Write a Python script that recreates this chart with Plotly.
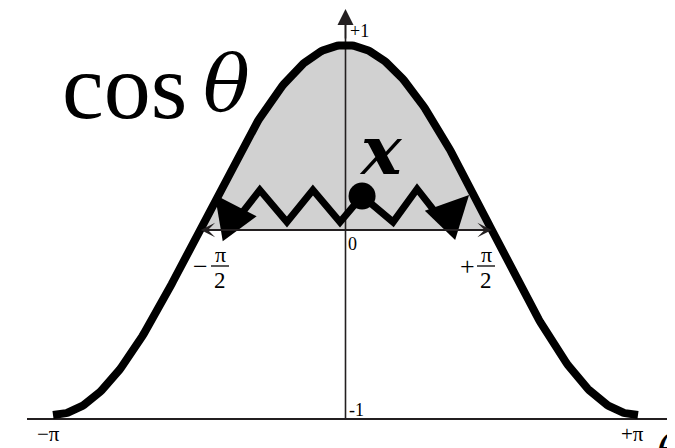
import numpy as np
import plotly.graph_objects as go

# ---------------- data ----------------
theta_min, theta_max = -np.pi, np.pi
curve_theta = np.linspace(theta_min, theta_max, 361)
curve_y = np.cos(curve_theta)

fill_theta = np.linspace(-np.pi / 2, np.pi / 2, 181)
fill_y = np.cos(fill_theta)

# zig-zag path (first/last points are the arrow tips)
zig_theta = [-1.403, -1.189, -0.920, -0.629, -0.350, -0.059, 0.178, 0.511, 0.769, 1.049, 1.327]
zig_y = [0.190, 0.043, 0.216, 0.043, 0.216, 0.043, 0.184, 0.043, 0.222, 0.043, 0.189]
dot_theta = [0.178]
dot_y = [0.184]

half_span = [-np.pi / 2, np.pi / 2]

# ---------------- geometry helpers (screen pixel -> data) ----------------
OFF = 8                      # page body margin
W, H = 675 - OFF, 448 - OFF
CX, PX_PER_RAD = 345.5, 292.5 / np.pi
CY, PX_PER_UNIT = 230.0, 185.0


def X(px):
    return (px - CX) / PX_PER_RAD


def Y(py):
    return (CY - py) / PX_PER_UNIT


INK = "#231f20"
SERIF = "DejaVu Serif"
TIMES = "Times New Roman"

fig = go.Figure()

# shaded region
fig.add_trace(go.Scatter(
    x=list(fill_theta) + [half_span[1], half_span[0]],
    y=list(fill_y) + [0, 0],
    fill="toself", fillcolor="rgb(209,209,209)",
    mode="lines", line=dict(width=0), hoverinfo="skip"))

# theta axis line (at y = -1 bottom)
fig.add_trace(go.Scatter(x=[X(27), X(668)], y=[Y(419), Y(419)], mode="lines",
                         line=dict(color=INK, width=2), hoverinfo="skip"))
# vertical axis line
fig.add_trace(go.Scatter(x=[0, 0], y=[Y(419), Y(14)], mode="lines",
                         line=dict(color=INK, width=1.6), hoverinfo="skip"))

# cosine curve
fig.add_trace(go.Scatter(x=curve_theta, y=curve_y, mode="lines",
                         line=dict(color="black", width=8), hoverinfo="skip"))

# zigzag
fig.add_trace(go.Scatter(x=zig_theta[1:-1], y=zig_y[1:-1], mode="lines",
                         line=dict(color="black", width=7), hoverinfo="skip"))
# dot
fig.add_trace(go.Scatter(x=dot_theta, y=dot_y, mode="markers",
                         marker=dict(color="black", size=27), hoverinfo="skip"))

annotations = []
# zigzag arrowheads
for (t0, y0, t1, y1) in [(zig_theta[1], zig_y[1], zig_theta[0], zig_y[0]),
                         (zig_theta[-2], zig_y[-2], zig_theta[-1], zig_y[-1])]:
    annotations.append(dict(x=t1, y=y1, ax=t0, ay=y0, xref="x", yref="y",
                            axref="x", ayref="y", text="", showarrow=True,
                            arrowhead=2, arrowsize=1.2, arrowwidth=7,
                            arrowcolor="black"))
# horizontal double arrow
annotations.append(dict(x=half_span[1], y=0, ax=half_span[0], ay=0, xref="x", yref="y",
                        axref="x", ayref="y", text="", showarrow=True,
                        arrowhead=3, startarrowhead=3, arrowside="end+start",
                        arrowsize=1.2, startarrowsize=1.2, arrowwidth=2, arrowcolor=INK))
# vertical arrowhead
annotations.append(dict(x=0, y=Y(9), ax=0, ay=Y(40), xref="x", yref="y",
                        axref="x", ayref="y", text="", showarrow=True,
                        arrowhead=2, arrowsize=2, arrowwidth=1.6, arrowcolor=INK))


def label(text, px, py, size, xanchor="center", yanchor="middle", family=TIMES):
    annotations.append(dict(x=X(px), y=Y(py), xref="x", yref="y", text=text,
                            showarrow=False, xanchor=xanchor, yanchor=yanchor,
                            font=dict(family=family, size=size, color="black")))


label("cos", 60, 86, 94, xanchor="left", family=TIMES)
label("<i>θ</i>", 201, 84, 78, xanchor="left", family=SERIF)
label("<b><i>x</i></b>", 381, 150, 68, family=SERIF)
label("+1", 348, 31, 18, xanchor="left")
label("-1", 347, 410, 18, xanchor="left")
label("0", 346, 244, 18, xanchor="left")
label("−π", 48, 434, 21)
label("+π", 632, 434, 21)
label("<i>θ</i>", 655, 424, 40, xanchor="left", yanchor="top", family=SERIF)
# -pi/2
label("−", 200, 266, 26)
label("π", 220, 254, 22)
label("2", 220, 280, 23)
# +pi/2
label("+", 467, 266, 26)
label("π", 486, 254, 22)
label("2", 486, 280, 23)

shapes = [
    dict(type="line", x0=X(211), x1=X(229), y0=Y(266), y1=Y(266), xref="x", yref="y",
         line=dict(color="black", width=1.3)),
    dict(type="line", x0=X(477), x1=X(495), y0=Y(266), y1=Y(266), xref="x", yref="y",
         line=dict(color="black", width=1.3)),
]

fig.update_layout(
    width=W, height=H, margin=dict(l=0, r=0, t=0, b=0),
    paper_bgcolor="white", plot_bgcolor="white", showlegend=False,
    font=dict(family=TIMES),
    xaxis=dict(range=[X(OFF), X(OFF + W)], visible=False, fixedrange=True),
    yaxis=dict(range=[Y(OFF + H), Y(OFF)], visible=False, fixedrange=True),
    annotations=annotations, shapes=shapes,
)

fig.write_html("out.html")
